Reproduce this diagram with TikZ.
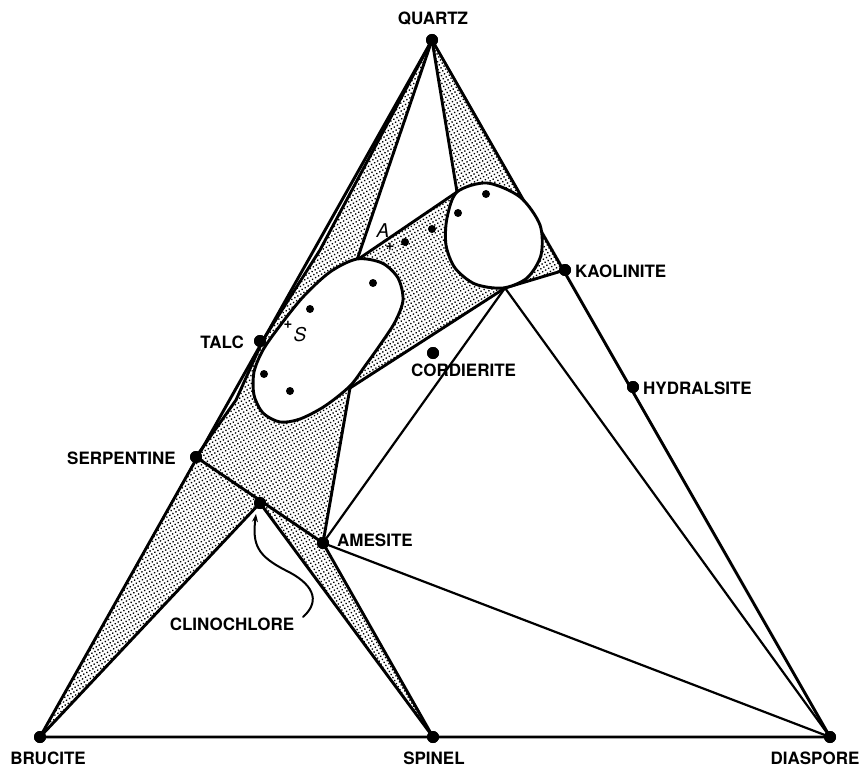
\documentclass[tikz,border=0pt]{standalone}
\usepackage{fontspec}
\setsansfont{TeX Gyre Heros}
\usetikzlibrary{patterns.meta, arrows.meta}
\tikzset{
  mdot/.style={circle, fill=black, inner sep=0pt, minimum size=12pt},
  sdot/.style={circle, fill=black, inner sep=0pt, minimum size=8pt},
  lbl/.style={font=\sffamily\bfseries\fontsize{17}{17}\selectfont, inner sep=0pt},
  mark lbl/.style={font=\sffamily\slshape\fontsize{19}{19}\selectfont, inner sep=0pt},
  plus lbl/.style={font=\sffamily\bfseries\fontsize{15}{15}\selectfont, inner sep=0pt},
  heavy/.style={line width=2.9pt},
  light/.style={line width=2.2pt},
  stipple/.style={pattern={Dots[radius=0.95pt, distance=3.5pt, angle=30]}},
}
\begin{document}
\begin{tikzpicture}[x=1pt, y=-1pt, line join=round, line cap=round]
\useasboundingbox (0,0) rectangle (864,767);

% mineral points
\node[mdot] (Q)  at (432,40)  {};
\node[mdot] (Br) at (40,737)  {};
\node[mdot] (Sp) at (433,737) {};
\node[mdot] (Di) at (830,737) {};
\node[mdot] (Ta) at (260,341) {};
\node[mdot] (Se) at (196,457) {};
\node[mdot] (Cl) at (260,503) {};
\node[mdot] (Am) at (323,543) {};
\node[mdot] (Ka) at (565,270) {};
\node[mdot] (Hy) at (633,387) {};
\node[mdot] (Co) at (433,353) {};

% construction points
\coordinate (L)  at (357,260);
\coordinate (C)  at (457,192);
\coordinate (P)  at (350,388);
\coordinate (Cb) at (505,288);
\coordinate (T1) at (320,250);
\coordinate (T2) at (263,340);
\coordinate (T3) at (236,400);

% stippled fields
\fill[stipple] (Q.center) -- (T1) -- (T2) -- (T3) -- (Se.center) -- (Cl.center)
   -- (Am.center) -- (P) -- (Cb) -- (Ka.center) -- cycle;
\fill[white] (Q.center) -- (L) -- (C) -- cycle;
\fill[stipple] (Se.center) -- (Br.center) -- (Cl.center) -- cycle;
\fill[stipple] (Cl.center) -- (Sp.center) -- (Am.center) -- cycle;

% tie lines
\draw[heavy] (Q.center) -- (Br.center) -- (Di.center) -- cycle;
\draw[heavy] (Q.center) -- (T1) -- (T2) -- (T3) -- (Se.center);
\draw[heavy] (Q.center) -- (L);
\draw[heavy] (Q.center) -- (C);
\draw[heavy] (L) -- (C);
\draw[heavy] (P) -- (Cb);
\draw[heavy] (Ka.center) -- (Cb);
\draw[heavy] (Am.center) -- (P);
\draw[heavy] (Se.center) -- (Am.center);
\draw[heavy] (Br.center) -- (Cl.center);
\draw[heavy] (Cl.center) -- (Sp.center);
\draw[heavy] (Am.center) -- (Sp.center);
\draw[light] (Cb) -- (Am.center);
\draw[light] (Cb) -- (Di.center);
\draw[light] (Am.center) -- (Di.center);

% solid-solution fields
\draw[heavy, fill=white] plot[smooth cycle] coordinates {
  (357,259) (382,263) (398,278) (403,300) (395,322) (380,345) (365,366)
  (350,386) (325,406) (300,419) (280,422) (263,413) (254,395) (254,372)
  (263,350) (279,327) (303,297) (330,272)};
\draw[heavy, fill=white] plot[smooth cycle] coordinates {
  (457,192) (487,183) (520,197) (540,225) (541,255) (527,278) (503,288)
  (475,284) (455,268) (446,245) (447,218)};

% redraw dots on top
\foreach \n in {Q,Br,Sp,Di,Ta,Se,Cl,Am,Ka,Hy,Co} \fill (\n) circle (6pt);

% analysed compositions
\node[sdot] (d1) at (310,309) {};
\node[sdot] (d2) at (373,283) {};
\node[sdot] (d3) at (264,374) {};
\node[sdot] (d4) at (290,391) {};
\node[sdot] (d5) at (458,213) {};
\node[sdot] (d6) at (486,194) {};
\node[sdot] (d7) at (405,242) {};
\node[sdot] (d8) at (432,229) {};

% A and S
\node[mark lbl] (Alab) at (383,231) {A};
\node[plus lbl] (Aplus) at (390,247) {+};
\node[plus lbl] (Splus) at (288,325) {+};
\node[mark lbl] (Slab) at (300,335) {S};

% labels
\node[lbl] (lQ)  at (433,19) {QUARTZ};
\node[lbl, anchor=east] (lTa) at (244,342) {TALC};
\node[lbl, anchor=east] (lSe) at (176,458) {SERPENTINE};
\node[lbl, anchor=west] (lAm) at (337,540) {AMESITE};
\node[lbl, anchor=west] (lKa) at (575,271) {KAOLINITE};
\node[lbl, anchor=west] (lHy) at (643,388) {HYDRALSITE};
\node[lbl, anchor=west] (lCo) at (411,370) {CORDIERITE};
\node[lbl] (lCl) at (232,624) {CLINOCHLORE};
\node[lbl] (lBr) at (48,758) {BRUCITE};
\node[lbl] (lSp) at (434,758) {SPINEL};
\node[lbl] (lDi) at (815,758) {DIASPORE};

% pointer to clinochlore
\coordinate (arrS) at (303,617);
\coordinate (arrE) at (256,514);
\draw[line width=2pt, -{Stealth[length=8pt, width=6pt]}] (arrS)
  .. controls (322,600) and (312,583) .. (285,570)
  .. controls (258,556) and (252,545) .. (arrE);
\end{tikzpicture}
\end{document}
